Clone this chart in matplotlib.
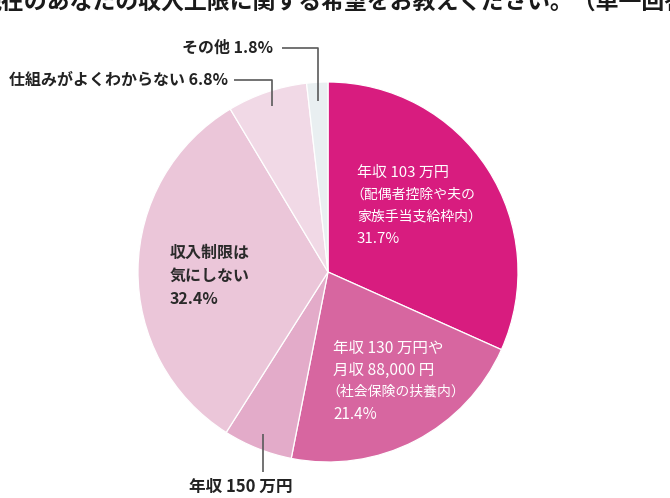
import numpy as np
import matplotlib
matplotlib.use("Agg")
import matplotlib.pyplot as plt

plt.rcParams['font.family'] = ['Noto Sans CJK JP', 'DejaVu Sans']

# ---- data ----
categories = ["年収103万円（配偶者控除や夫の家族手当支給枠内）",
              "年収130万円や月収88,000円（社会保険の扶養内）",
              "年収150万円",
              "収入制限は気にしない",
              "仕組みがよくわからない",
              "その他"]
values = [31.7, 21.4, 5.9, 32.4, 6.8, 1.8]
colors = ["#d81c7f", "#d766a0", "#e3abc9", "#ebc6d9", "#f1d9e6", "#e9eff1"]
title = "現在のあなたの収入上限に関する希望をお教えください。（単一回答）"

W, H = 670, 498
CX, CY, R = 328, 272, 190  # pixel centre and radius

fig = plt.figure(figsize=(W / 100, H / 100), dpi=100)
ax = fig.add_axes([0, 0, 1, 1])

wedges, _ = ax.pie(values, colors=colors, startangle=90, counterclock=False,
                   radius=1, center=(0, 0),
                   wedgeprops=dict(edgecolor="white", linewidth=0.9))
ax.set_aspect("auto")
ax.set_xlim(-CX / R, (W - CX) / R)
ax.set_ylim(-(H - CY) / R, CY / R)
ax.axis("off")


def P(px, py):
    """pixel (from top-left) -> data coords"""
    return (px - CX) / R, (CY - py) / R


def anchor(i, r=0.92):
    w = wedges[i]
    th = np.deg2rad((w.theta1 + w.theta2) / 2)
    return r * np.cos(th), r * np.sin(th)


# title (cropped at top / left like the reference)
tx, ty = P(-21, 10)
ax.text(tx, ty, title, fontsize=16.5, fontweight="bold", color="#1a1a1a",
        ha="left", va="baseline", clip_on=False)

# inside labels
white = "white"
lab1 = [("年収 103 万円", 10.8, 357, 173), ("（配偶者控除や夫の", 10, 350, 195),
        ("家族手当支給枠内）", 10, 357, 217), ("31.7%", 10.8, 357, 239)]
for s, fs, px, py in lab1:
    x, y = P(px, py)
    ax.text(x, y, s, fontsize=fs, color=white, ha="left", va="center")

lab2 = [("年収 130 万円や", 11.2, 333, 348), ("月収 88,000 円", 11.2, 333, 370),
        ("（社会保険の扶養内）", 10, 326, 392), ("21.4%", 11, 333, 414)]
for s, fs, px, py in lab2:
    x, y = P(px, py)
    ax.text(x, y, s, fontsize=fs, color=white, ha="left", va="center")

lab4 = [("収入制限は", 253), ("気にしない", 276), ("32.4%", 299)]
for s, py in lab4:
    x, y = P(170, py)
    ax.text(x, y, s, fontsize=11.5, color="#2a2a2a", fontweight="bold",
            ha="left", va="center")

# outside labels with elbow leader lines
line_kw = dict(color="#5a5a5a", lw=1.2, solid_capstyle="butt")
ofs = 11.5

# その他
ax_, ay_ = anchor(5, 0.9)
lx, ly = P(282, 48)
ax.plot([lx, ax_, ax_], [ly, ly, ay_], **line_kw)
x, y = P(273, 48)
ax.text(x, y, "その他 1.8%", fontsize=ofs, fontweight="bold", color="#222",
        ha="right", va="center")

# 仕組みがよくわからない
ax_, ay_ = anchor(4, 0.92)
lx, ly = P(234, 80)
ax.plot([lx, ax_, ax_], [ly, ly, ay_], **line_kw)
x, y = P(228, 80)
ax.text(x, y, "仕組みがよくわからない 6.8%", fontsize=ofs, fontweight="bold",
        color="#222", ha="right", va="center")

# 年収150万円
ax_, ay_ = anchor(2, 0.92)
_, by = P(0, 472)
ax.plot([ax_, ax_], [ay_, by], **line_kw)
x, y = P(241, 487)
ax.text(x, y, "年収 150 万円", fontsize=12, fontweight="bold", color="#222",
        ha="center", va="center")

fig.savefig("out.png", dpi=100, facecolor="white")
